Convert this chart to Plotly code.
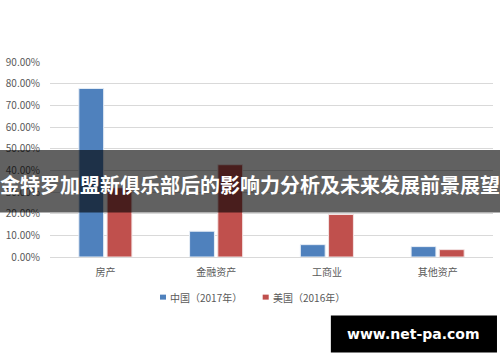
import plotly.graph_objects as go

categories = ["房产", "金融资产", "工商业", "其他资产"]
china_2017 = [0.778, 0.119, 0.057, 0.048]
usa_2016 = [0.32, 0.426, 0.196, 0.034]
series_names = ["中国（2017年）", "美国（2016年）"]
series_colors = ["#4F81BD", "#C0504D"]
tick_vals = [0, 0.1, 0.2, 0.3, 0.4, 0.5, 0.6, 0.7, 0.8, 0.9]
banner_text = "金特罗加盟新俱乐部后的影响力分析及未来发展前景展望"
watermark_text = "www.net-pa.com"

FONT = "Noto Sans CJK SC"
GRAY = "#595959"

fig = go.Figure()
fig.add_trace(go.Bar(x=categories, y=china_2017, name=series_names[0],
                     marker=dict(color=series_colors[0], line=dict(color="#e8eef6", width=1))))
fig.add_trace(go.Bar(x=categories, y=usa_2016, name=series_names[1],
                     marker=dict(color=series_colors[1], line=dict(color="#f3e3e3", width=1))))

# manual legend (symbol close to text as in the reference)
legend_x = [0.2483, 0.4801]
legend_shapes = []
legend_annots = []
for lx, name, col in zip(legend_x, series_names, series_colors):
    legend_shapes.append(dict(type="rect", xref="paper", yref="paper",
                              x0=lx, x1=lx + 0.0136, y0=-0.2186, y1=-0.193,
                              fillcolor=col, line=dict(width=0)))
    legend_annots.append(dict(text=name, xref="paper", yref="paper",
                              x=lx + 0.019, y=-0.206, showarrow=False,
                              xanchor="left", yanchor="middle",
                              font=dict(family=FONT, size=10, color=GRAY)))

fig.update_layout(
    width=500, height=362,
    margin=dict(l=50, r=7, t=62, b=105),
    paper_bgcolor="white", plot_bgcolor="white",
    barmode="group", bargap=0.49, bargroupgap=0.12,
    font=dict(family=FONT, color=GRAY, size=10),
    showlegend=False,
    xaxis=dict(showgrid=False, showline=True, linecolor="#d9d9d9", linewidth=1,
               ticks="", ticklabelstandoff=6,
               tickfont=dict(size=10, color=GRAY, family=FONT)),
    yaxis=dict(range=[0, 0.9], tickvals=tick_vals, tickformat=".2%",
               showgrid=True, gridcolor="#d9d9d9", gridwidth=1, zeroline=False,
               showline=False, ticks="", ticklabelstandoff=9,
               tickfont=dict(size=10, color=GRAY, family=FONT)),
    shapes=legend_shapes + [
        dict(type="rect", xref="paper", yref="paper",
             x0=-0.115, x1=1.02, y0=0.228, y1=0.549,
             fillcolor="rgba(0,0,0,0.62)", line=dict(width=0), layer="above"),
        dict(type="rect", xref="paper", yref="paper",
             x0=0.634, x1=1.009, y0=-0.49, y1=-0.30,
             fillcolor="black", line=dict(width=0), layer="above"),
    ],
    annotations=legend_annots + [
        dict(text=banner_text, xref="paper", yref="paper", x=0.4515, y=0.37,
             showarrow=False, xanchor="center", yanchor="middle",
             font=dict(family=FONT, size=20, color="white", weight="bold")),
        dict(text=watermark_text, xref="paper", yref="paper", x=0.8205, y=-0.395,
             showarrow=False, xanchor="center", yanchor="middle",
             font=dict(family="DejaVu Sans", size=14, color="white", weight="bold")),
    ],
)

fig.write_html("out.html")
